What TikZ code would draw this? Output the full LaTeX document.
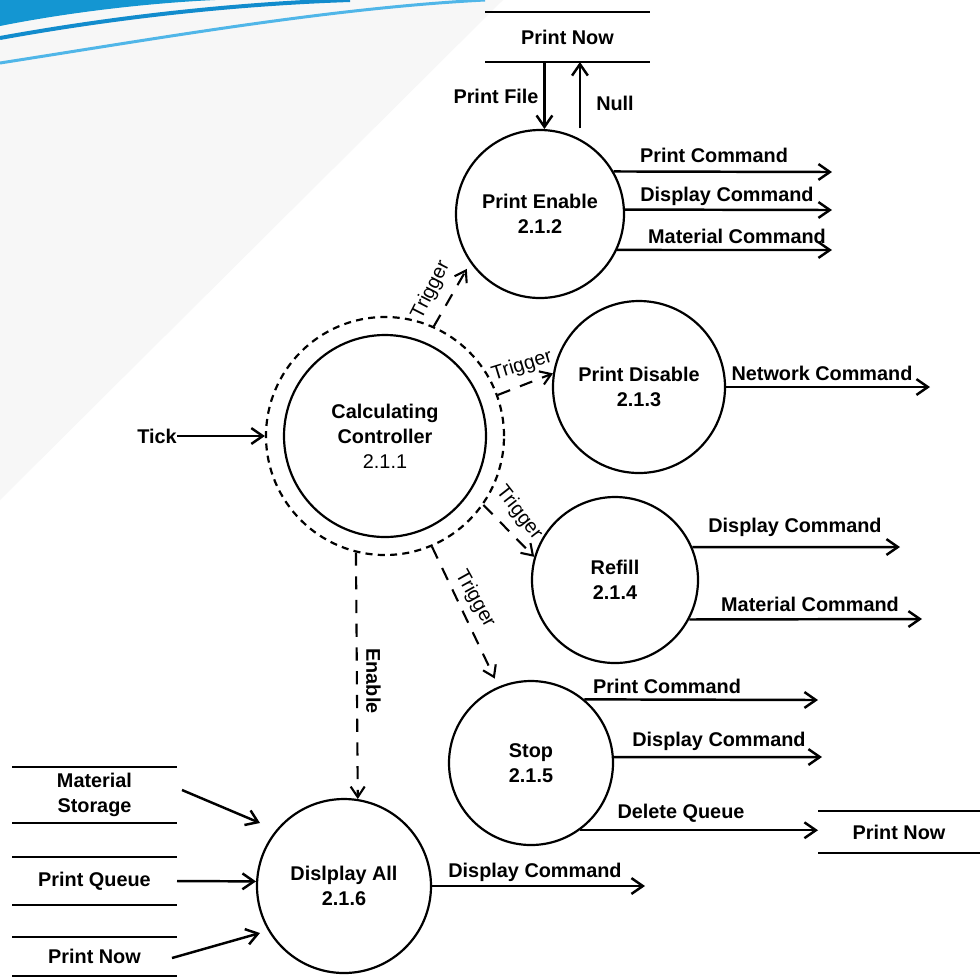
\documentclass[tikz,border=0pt]{standalone}
\usepackage{fontspec}
\setmainfont{Liberation Sans}
\usetikzlibrary{arrows.meta}
\pgfdeclarelayer{bglayer}
\pgfdeclarelayer{edgelayer}
\pgfdeclarelayer{nodelayer}
\pgfsetlayers{bglayer,edgelayer,nodelayer,main}
\definecolor{swoosh}{RGB}{20,150,210}
\definecolor{swooshline}{RGB}{18,140,205}
\definecolor{swooshpale}{RGB}{80,182,232}
\definecolor{slidegray}{RGB}{247,247,247}
\tikzset{font=\fontsize{11.3}{14.2}\selectfont\bfseries}
\tikzstyle{none}=[inner sep=0pt]
\tikzstyle{thin text}=[inner sep=0pt, font=\fontsize{11.3}{14.2}\selectfont\mdseries]
\tikzstyle{proc}=[circle, draw, line width=1.25pt, inner sep=0pt, align=center]
\tikzstyle{ring}=[circle, draw, line width=1.25pt, dash pattern=on 4pt off 3pt]
\tikzstyle{store}=[inner sep=0pt, outer sep=0pt, minimum width=3.3cm, align=center]
\tikzstyle{flow}=[line width=1.4pt, -{Straight Barb[length=6.5pt,width=9pt]}]
\tikzstyle{trig}=[line width=1.2pt, dash pattern=on 7.5pt off 6pt, -{Straight Barb[length=6pt,width=8pt]}]
\tikzstyle{bar}=[line width=1.4pt]

\begin{document}
\begin{tikzpicture}
	\useasboundingbox (0,0) rectangle (19.6,-19.56);
	\begin{pgfonlayer}{bglayer}
		\fill[white] (0,0) rectangle (19.6,-19.56);
		\fill[slidegray] (0,0) -- (10.06,0) -- (0,-10.0) -- cycle;
		\fill[swoosh] (0,0) -- (0,-0.52) .. controls (1.4,-0.24) and (3,-0.06) .. (4.3,0) -- cycle;
		\draw[swooshline, line width=0.08cm] (0,-0.76) .. controls (2.2,-0.36) and (4.6,-0.08) .. (7,0);
		\draw[swooshpale, line width=0.06cm] (0,-1.26) .. controls (3.2,-0.76) and (6.6,-0.16) .. (9.7,0);
	\end{pgfonlayer}
	\begin{pgfonlayer}{nodelayer}
		\node [style=ring, minimum size=4.76cm] (0) at (7.7, -8.72) {};
		\node [style=proc, minimum size=4.04cm] (1) at (7.7, -8.72) {Calculating\\Controller\\{\mdseries 2.1.1}};
		\node [style=proc, minimum size=3.36cm] (2) at (10.8, -4.28) {Print Enable\\2.1.2};
		\node [style=proc, minimum size=3.44cm] (3) at (12.78, -7.74) {Print Disable\\2.1.3};
		\node [style=proc, minimum size=3.32cm] (4) at (12.3, -11.6) {Refill\\2.1.4};
		\node [style=proc, minimum size=3.28cm] (5) at (10.62, -15.26) {Stop\\2.1.5};
		\node [style=proc, minimum size=3.48cm] (6) at (6.88, -17.72) {Dislplay All\\2.1.6};
		\node [style=store, minimum height=1.0cm] (7) at (11.35, -0.74) {Print Now};
		\node [style=store, minimum width=3.24cm, minimum height=0.84cm] (8) at (17.98, -16.64) {Print Now};
		\node [style=store, minimum height=1.12cm] (9) at (1.89, -15.9) {Material\\Storage};
		\node [style=store, minimum height=0.96cm] (10) at (1.89, -17.62) {Print Queue};
		\node [style=store, minimum height=0.78cm] (11) at (1.89, -19.13) {Print Now};
		\node [style=none] (12) at (3.14, -8.72) {Tick};
		\node [style=none] (13) at (16.64, -3.44) {};
		\node [style=none] (14) at (16.64, -4.2) {};
		\node [style=none] (15) at (16.64, -5.0) {};
		\node [style=none] (16) at (18.6, -7.74) {};
		\node [style=none] (17) at (18.0, -10.94) {};
		\node [style=none] (18) at (18.44, -12.38) {};
		\node [style=none] (19) at (16.36, -14.0) {};
		\node [style=none] (20) at (16.44, -15.14) {};
		\node [style=none] (21) at (12.9, -17.72) {};
		\node [style=none] (22) at (3.64, -15.8) {};
		\node [style=none] (23) at (5.2, -16.46) {};
		\node [style=none] (24) at (3.44, -19.16) {};
		\node [style=none] (25) at (5.2, -18.66) {};
		\node [style=none] (26) at (9.92, -1.92) {Print File};
		\node [style=none] (27) at (12.3, -2.06) {Null};
		\node [style=none] (28) at (14.28, -3.1) {Print Command};
		\node [style=none] (29) at (14.54, -3.92) {Display Command};
		\node [style=none] (30) at (14.74, -4.72) {Material Command};
		\node [style=none] (31) at (16.44, -7.46) {Network Command};
		\node [style=none] (32) at (15.9, -10.54) {Display Command};
		\node [style=none] (33) at (16.2, -12.08) {Material Command};
		\node [style=none] (34) at (13.34, -13.72) {Print Command};
		\node [style=none] (35) at (14.38, -14.82) {Display Command};
		\node [style=none] (36) at (13.62, -16.26) {Delete Queue};
		\node [style=none] (37) at (10.7, -17.44) {Display Command};
		\node [style=thin text, rotate=63] (38) at (8.62, -5.8) {Trigger};
		\node [style=thin text, rotate=17] (39) at (10.44, -7.32) {Trigger};
		\node [style=thin text, rotate=-52] (40) at (10.38, -10.26) {Trigger};
		\node [style=thin text, rotate=-61] (41) at (9.5, -11.98) {Trigger};
		\node [style=none, rotate=-90] (42) at (7.47, -13.62) {Enable};
	\end{pgfonlayer}
	\begin{pgfonlayer}{edgelayer}
		\draw [style=bar] (7.north west) to (7.north east);
		\draw [style=bar] (7.south west) to (7.south east);
		\draw [style=bar] (8.north west) to (8.north east);
		\draw [style=bar] (8.south west) to (8.south east);
		\draw [style=bar] (9.north west) to (9.north east);
		\draw [style=bar] (9.south west) to (9.south east);
		\draw [style=bar] (10.north west) to (10.north east);
		\draw [style=bar] (10.south west) to (10.south east);
		\draw [style=bar] (11.north west) to (11.north east);
		\draw [style=bar] (11.south west) to (11.south east);
		\draw [style=flow] (12) to (0);
		\draw [style=flow] (2.87 |- 7.south) to (2.87);
		\draw [style=flow, shorten <=6pt] (2.62) to (2.62 |- 7.south);
		\draw [style=flow] (2.30) to (13.center);
		\draw [style=flow] (2.3) to (14.center);
		\draw [style=flow] (2.-25) to (15.center);
		\draw [style=flow] (3.east) to (16.center);
		\draw [style=flow] (4.23) to (17.center);
		\draw [style=flow] (4.-28) to (18.center);
		\draw [style=flow] (5.50) to (19.center);
		\draw [style=flow] (5.4) to (20.center);
		\draw [style=flow] (5.-54) to (5.-54 -| 8.west);
		\draw [style=flow] (6.east) to (21.center);
		\draw [style=flow] (22.center) to (23.center);
		\draw [style=flow] (10.east) to (6.177);
		\draw [style=flow] (24.center) to (25.center);
		\draw [style=trig, shorten >=4pt] (0.66) to (2.215);
		\draw [style=trig] (0.20) to (3.171);
		\draw [style=trig] (0.-35) to (4.164);
		\draw [style=trig, shorten >=5pt] (0.-67) to (5.113);
		\draw [style=trig] (0.256) to (6.81);
	\end{pgfonlayer}
\end{tikzpicture}
\end{document}
